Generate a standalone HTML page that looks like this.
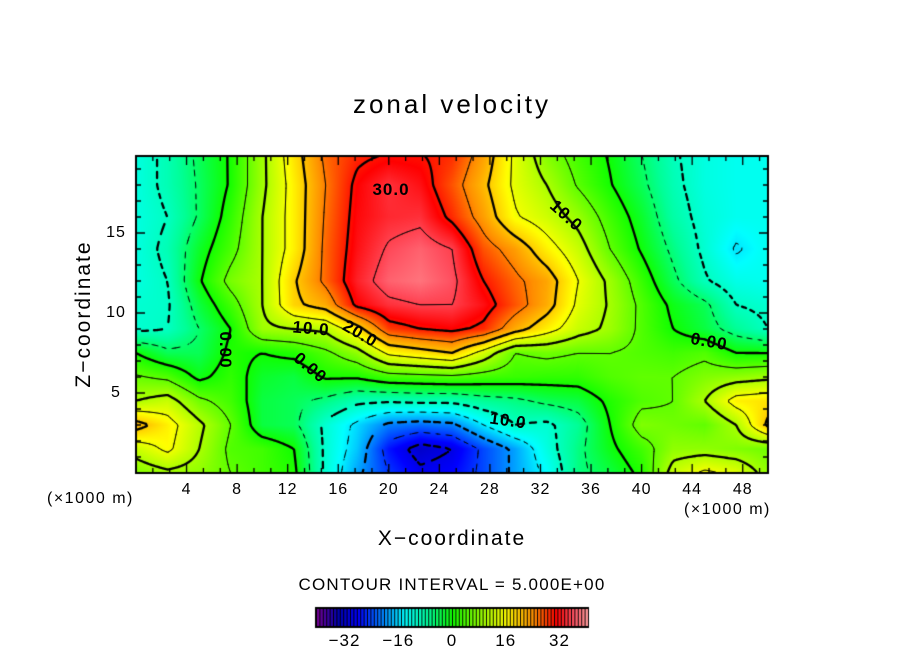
<!DOCTYPE html>
<html><head><meta charset="utf-8">
<style>
html,body{margin:0;padding:0;background:#fff;}
#wrap{position:relative;width:904px;height:654px;overflow:hidden;font-family:"Liberation Sans","DejaVu Sans",sans-serif;color:#000;}
.t{position:absolute;white-space:nowrap;}
canvas{position:absolute;left:0;top:0;}
</style></head>
<body>
<div id="wrap">
<canvas id="cv" width="904" height="654"></canvas>
<div class="t" style="left:0;width:904px;text-align:center;top:89px;font-size:26px;letter-spacing:3px;">zonal velocity</div>
<div class="t" style="left:-6px;top:302px;width:180px;text-align:center;font-size:21px;letter-spacing:2px;transform:rotate(-90deg);">Z−coordinate</div>
<div class="t" style="left:302px;width:300px;text-align:center;top:527px;font-size:21px;letter-spacing:2px;">X−coordinate</div>
<div class="t" style="left:47px;top:490px;font-size:16px;letter-spacing:1.5px;">(×1000 m)</div>
<div class="t" style="left:684px;top:501px;font-size:16px;letter-spacing:1.5px;">(×1000 m)</div>
<div class="t" style="left:0;width:904px;text-align:center;top:575px;font-size:17px;letter-spacing:1.2px;">CONTOUR INTERVAL = 5.000E+00</div>
<div id="labels"></div>
</div>
<script>
// ---- data ----
const xCoords=[0,2.5,5,7.5,10,12.5,15,17.5,20,22.5,25,27.5,30,32.5,35,37.5,40,42.5,45,47.5,50];
const zCoords=[0,1.5,3,4.5,6,7.5,9,10.5,12,14,16,18,20];
const row0 =[7,9,8,5,3,1,-11,-19,-25,-29,-28,-24,-19,-14,-6,-3,1,12,16,14,8];
const row1 =[12,16,10,4,3,0,-11,-17,-27,-32,-30,-24,-19,-12,-6,-1,3,8,8,7,6];
const row2 =[22,17,11,5,-3,-4,-11,-16,-21,-22,-21,-15,-10,-11,-7,0,7,6,5,10,21];
const row3 =[10,12,6,3,-3,-4,-6,-9,-9.5,-9,-9,-7,-6,-4,-3,1,4,5,10,17,18];
const row4 =[5.5,4,-1,2,-2,-3,0.5,0.5,3,3.5,4,3,2.5,2,2,4,5,5,7,8,9];
const row5 =[0,-4,-4,1,0,1,4,8,16,18,20,13,5,6,5,5,4,3,4,0,0];
const row6 =[-11,-10,-5,0,9,10,11,18,28,30,31,29,22,17,12,9,4,0,-3,-7,-10];
const row7 =[-11,-10.5,-3,3,10,19,22,31,34,35,35,32,27,22,14,9.5,4,-1,-4,-10,-11];
const row8 =[-12,-10,-0.5,6.5,10,19.5,26,33,37,38,36,30,26,22.5,15,9,2.5,-4,-9.5,-12.5,-13];
const row9 =[-12,-9,-2,3.5,10,17,26,32,35.5,37,35,27,23,17,12,5,-0.5,-6,-11,-15.5,-13];
const row10=[-12,-10,-4.5,2,10,17,25.5,31.5,33.5,34,29,23,15.5,12.5,8.5,3,-2,-8,-11.5,-13,-13];
const row11=[-12,-9,-4.5,0.5,9,17,25,31,34,32,27,21,14,10,4.5,0.3,-4,-9,-12,-13,-13];
const row12=[-12,-9,-4,0.5,9,18,26,29,30,30,29,23,14,7,3,-0.5,-5,-9.5,-12,-13,-13];
const rows=[row0,row1,row2,row3,row4,row5,row6,row7,row8,row9,row10,row11,row12];
const xTicks=[4,8,12,16,20,24,28,32,36,40,44,48];
const zTicks=[5,10,15];
const cbTicks=[-32,-16,0,16,32];
const levels=[-35,-30,-25,-20,-15,-10,-5,0,5,10,15,20,25,30,35];

// ---- axes ----
const PL=136,PT=156,PW=632,PH=317;
const XMAX=50,ZMAX=PH/16;
function sx(x){return PL+x/XMAX*PW;}
function sz(z){return PT+PH-z/ZMAX*PH;}
const CBL=316,CBW=272,CBT=608,CBH=19,VMIN=-40.5,VMAX=40.5;
function scb(v){return CBL+(v-VMIN)/(VMAX-VMIN)*CBW;}

const stops=[[-40,[112,0,150]],[-34,[0,0,176]],[-28,[0,0,255]],[-20,[0,144,255]],[-14,[0,255,255]],[-7,[0,255,150]],[0,[16,255,0]],[8,[144,255,0]],[16,[255,255,0]],[24,[255,144,0]],[31,[255,0,0]],[36,[255,80,96]],[40.5,[255,160,160]]];
function cmap(v){
  if(v<=stops[0][0])return stops[0][1];
  for(let i=1;i<stops.length;i++){if(v<=stops[i][0]){const a=stops[i-1],b=stops[i];const t=(v-a[0])/(b[0]-a[0]);return [0,1,2].map(k=>Math.round(a[1][k]+t*(b[1][k]-a[1][k])));}}
  return stops[stops.length-1][1];
}
function field(x,z){
  let i=Math.min(xCoords.length-2,Math.max(0,Math.floor(x/(xCoords[1]-xCoords[0]))));
  let tx=(x-xCoords[i])/(xCoords[i+1]-xCoords[i]);
  let j=0;while(j<zCoords.length-2&&z>zCoords[j+1])j++;
  let tz=(z-zCoords[j])/(zCoords[j+1]-zCoords[j]);
  tx=Math.max(0,Math.min(1,tx));tz=Math.max(0,Math.min(1,tz));
  const a=rows[j][i],b=rows[j][i+1],c=rows[j+1][i],d=rows[j+1][i+1];
  return (a*(1-tx)+b*tx)*(1-tz)+(c*(1-tx)+d*tx)*tz;
}
const cv=document.getElementById('cv');const ctx=cv.getContext('2d');
const img=ctx.createImageData(PW,PH);
for(let py=0;py<PH;py++){for(let px=0;px<PW;px++){
  const x=(px+0.5)/PW*XMAX, z=(PH-py-0.5)/PH*ZMAX;
  const c=cmap(field(x,z));const o=(py*PW+px)*4;
  img.data[o]=c[0];img.data[o+1]=c[1];img.data[o+2]=c[2];img.data[o+3]=255;}}
ctx.putImageData(img,PL,PT);
const S=2,NX=Math.floor(PW/S),NZ=Math.floor(PH/S);
const g=[];
for(let j=0;j<=NZ;j++){g[j]=[];for(let i=0;i<=NX;i++){g[j][i]=field(i*S/PW*XMAX,(PH-j*S)/PH*ZMAX);}}
ctx.save();ctx.beginPath();ctx.rect(PL,PT,PW,PH);ctx.clip();
ctx.strokeStyle='#000';ctx.lineCap='round';
levels.forEach(L=>{
  ctx.lineWidth=(L%10===0)?2.3:0.9;
  ctx.beginPath();
  for(let j=0;j<NZ;j++)for(let i=0;i<NX;i++){
    if(L<0&&Math.floor((i+j)/3)%2===1)continue;
    const v=[g[j][i],g[j][i+1],g[j+1][i+1],g[j+1][i]];
    const P=[[i,j],[i+1,j],[i+1,j+1],[i,j+1]];
    const pts=[];
    for(let e=0;e<4;e++){const a=v[e],b=v[(e+1)%4];
      if((a<L)!==(b<L)){const t=(L-a)/(b-a);const p=P[e],q=P[(e+1)%4];
        pts.push([PL+(p[0]+t*(q[0]-p[0]))*S,PT+(p[1]+t*(q[1]-p[1]))*S]);}}
    for(let k=0;k+1<pts.length;k+=2){ctx.moveTo(pts[k][0],pts[k][1]);ctx.lineTo(pts[k+1][0],pts[k+1][1]);}
  }
  ctx.stroke();
});
ctx.restore();
ctx.strokeStyle='#000';ctx.lineWidth=2;ctx.strokeRect(PL,PT,PW,PH);
ctx.lineWidth=1.3;ctx.beginPath();
for(let k=0;k<=37;k++){const x=k*4/3;if(x>XMAX)break;const X=sx(x);const len=(k%3===0)?9:5;
  ctx.moveTo(X,PT+PH);ctx.lineTo(X,PT+PH-len);ctx.moveTo(X,PT);ctx.lineTo(X,PT+len);}
for(let z=1;z<ZMAX;z++){const Y=sz(z);const len=(z%5===0)?9:5;
  ctx.moveTo(PL,Y);ctx.lineTo(PL+len,Y);ctx.moveTo(PL+PW,Y);ctx.lineTo(PL+PW-len,Y);}
ctx.stroke();
ctx.fillStyle='#000';ctx.fillRect(CBL-1,CBT-1,CBW+2,CBH+2);
const NB=80;
for(let k=0;k<NB;k++){const v0=VMIN+k*(VMAX-VMIN)/NB,v1=VMIN+(k+1)*(VMAX-VMIN)/NB;
  const c=cmap((v0+v1)/2);ctx.fillStyle='rgb('+c.join(',')+')';
  const a=scb(v0),b=scb(v1);ctx.fillRect(a+1,CBT+1,b-a-1,CBH-2);}
const lab=document.getElementById('labels');
function addText(name,txt,x,y,size,rot,extra){
  const d=document.createElement('div');d.className='t';
  
  
  d.textContent=txt;d.style.fontSize=size+'px';
  d.style.left=x+'px';d.style.top=y+'px';d.style.letterSpacing='1px';
  if(extra)d.style.fontWeight='bold';
  d.style.transform='translate(-50%,-50%)'+(rot?' rotate('+rot+'deg)':'');
  lab.appendChild(d);return d;}
xTicks.forEach(t=>{addText('x-tick-label',String(t),sx(t),490,16,0);});
zTicks.forEach(t=>{addText('z-tick-label',String(t),116,sz(t),16,0);});
cbTicks.forEach(t=>{addText('colorbar-tick-label',(t<0?'−':'')+Math.abs(t),scb(t),641,17,0);});
addText('contour-label','30.0',391,190,17,0,1);
addText('contour-label','10.0',566,216,17,42,1);
addText('contour-label','10.0',311,329,17,5,1);
addText('contour-label','20.0',360,334,17,30,1);
addText('contour-label','0.00',225,350,17,90,1);
addText('contour-label','0.00',310,368,17,40,1);
addText('contour-label','10.0',508,421,17,8,1);
addText('contour-label','0.00',709,342,17,10,1);
</script>
</body></html>
